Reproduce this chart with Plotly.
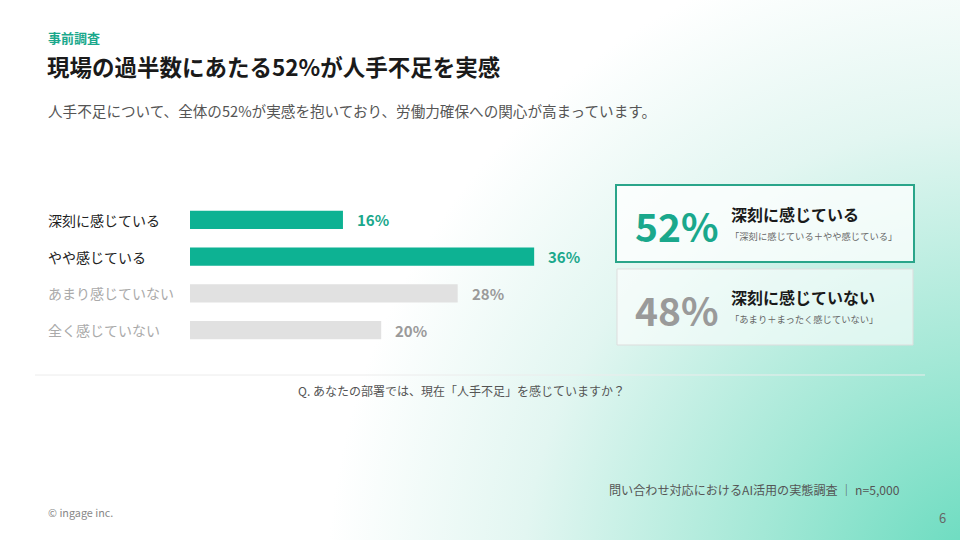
import base64
import plotly.graph_objects as go

categories = ["深刻に感じている", "やや感じている", "あまり感じていない", "全く感じていない"]
values = [16, 36, 28, 20]
bar_colors = ["#0db293", "#0db293", "#e1e1e1", "#e1e1e1"]
label_colors = ["#222222", "#222222", "#aaaaaa", "#aaaaaa"]
value_colors = ["#1aa88c", "#1aa88c", "#9a9a9a", "#9a9a9a"]
summary_values = ["52%", "48%"]
summary_titles = ["深刻に感じている", "深刻に感じていない"]
summary_notes = ["「深刻に感じている＋やや感じている」", "「あまり＋まったく感じていない」"]

FONT = "Noto Sans CJK JP"
W, H = 960, 540

def px(x):
    return x / W

def py(y):
    return 1 - y / H

svg = f'''<svg xmlns="http://www.w3.org/2000/svg" width="{W}" height="{H}" viewBox="0 0 {W} {H}">
<defs><radialGradient id="g" gradientUnits="userSpaceOnUse" cx="990" cy="590" r="780">
<stop offset="0" stop-color="#5fd9bb"/>
<stop offset="0.3" stop-color="#a3e8d6"/>
<stop offset="0.6" stop-color="#e2f6f1"/>
<stop offset="0.85" stop-color="#ffffff"/>
<stop offset="1" stop-color="#ffffff"/>
</radialGradient></defs>
<rect width="{W}" height="{H}" fill="#ffffff"/>
<rect width="{W}" height="{H}" fill="url(#g)"/>
</svg>'''
src = "data:image/svg+xml;base64," + base64.b64encode(svg.encode()).decode()

fig = go.Figure()
fig.add_trace(go.Bar(
    x=values, y=categories, orientation="h",
    marker=dict(color=bar_colors, line=dict(width=0)),
    width=0.5, hoverinfo="skip",
))

px_per_pct = 9.56
x0_px = 190
fig.update_xaxes(domain=[px(x0_px), 1], range=[0, (W - x0_px) / px_per_pct],
                 visible=False, fixedrange=True)
fig.update_yaxes(domain=[py(348.5), py(201.5)], range=[3.5, -0.5],
                 visible=False, fixedrange=True, type="category",
                 categoryorder="array", categoryarray=categories)

ann = []
for c, v, lc, vc in zip(categories, values, label_colors, value_colors):
    ann.append(dict(x=px(46), xref="paper", y=c, yref="y", text=c, showarrow=False,
                    xanchor="left", yanchor="middle",
                    font=dict(family=FONT, size=14, color=lc)))
    ann.append(dict(x=v, xref="x", y=c, yref="y", text=f"<b>{v}%</b>", showarrow=False,
                    xanchor="left", yanchor="middle", xshift=12,
                    font=dict(family=FONT, size=15, color=vc)))

# header texts
hdr = [
    dict(x=px(46), y=py(37), text="<b>事前調査</b>", font=dict(family=FONT, size=13, color="#1aa88c")),
    dict(x=px(45), y=py(66), text="<b>現場の過半数にあたる52%が人手不足を実感</b>",
         font=dict(family=FONT, size=22.5, color="#1a1a1a")),
    dict(x=px(46), y=py(110), text="人手不足について、全体の52%が実感を抱いており、労働力確保への関心が高まっています。",
         font=dict(family=FONT, size=14.6, color="#555555")),
    dict(x=px(46), y=py(512), text="© ingage inc.", font=dict(family=FONT, size=10.8, color="#888888")),
]
for a in hdr:
    a.update(xref="paper", yref="paper", xanchor="left", yanchor="middle", showarrow=False)
ann += hdr

ftr = [
    dict(x=px(461), y=py(390), text="Q. あなたの部署では、現在「人手不足」を感じていますか？",
         xanchor="center", font=dict(family=FONT, size=12, color="#555555")),
    dict(x=px(902), y=py(489), text="問い合わせ対応におけるAI活用の実態調査 ｜ n=5,000",
         xanchor="right", font=dict(family=FONT, size=12.1, color="#555555")),
    dict(x=px(948), y=py(517), text="6", xanchor="right", font=dict(family=FONT, size=13, color="#666666")),
]
for a in ftr:
    a.update(xref="paper", yref="paper", yanchor="middle", showarrow=False)
ann += ftr

# summary boxes
box_y = [(185, 262), (269, 345)]
big_colors = ["#1aa88c", "#9a9a9a"]
for (t, b), sv, st, sn, bc in zip(box_y, summary_values, summary_titles, summary_notes, big_colors):
    mid = (t + b) / 2
    ann.append(dict(x=px(633), y=py(mid + 2), text=f"<b>{sv}</b>", xref="paper", yref="paper",
                    xanchor="left", yanchor="middle", showarrow=False,
                    font=dict(family=FONT, size=39, color=bc)))
    ann.append(dict(x=px(729), y=py(mid - 10), text=f"<b>{st}</b>", xref="paper", yref="paper",
                    xanchor="left", yanchor="middle", showarrow=False,
                    font=dict(family=FONT, size=16, color="#1a1a1a")))
    ann.append(dict(x=px(728), y=py(mid + 12), text=sn, xref="paper", yref="paper",
                    xanchor="left", yanchor="middle", showarrow=False,
                    font=dict(family=FONT, size=9.3, color="#666666")))

shapes = [
    dict(type="rect", xref="paper", yref="paper", x0=px(616), x1=px(914), y0=py(262), y1=py(185),
         line=dict(color="#2aa58a", width=2), fillcolor="rgba(255,255,255,0.75)", layer="below"),
    dict(type="rect", xref="paper", yref="paper", x0=px(617), x1=px(913), y0=py(345), y1=py(269),
         line=dict(color="#dddddd", width=1), fillcolor="rgba(255,255,255,0.6)", layer="below"),
    dict(type="line", xref="paper", yref="paper", x0=px(35), x1=px(925), y0=py(375), y1=py(375),
         line=dict(color="#ececec", width=1)),
]

fig.update_layout(
    width=W, height=H, margin=dict(l=0, r=0, t=0, b=0),
    paper_bgcolor="#ffffff", plot_bgcolor="rgba(0,0,0,0)",
    showlegend=False, annotations=ann, shapes=shapes,
    images=[dict(source=src, xref="paper", yref="paper", x=0, y=1, sizex=1, sizey=1,
                 sizing="stretch", xanchor="left", yanchor="top", layer="below")],
    font=dict(family=FONT),
    bargap=0.5,
)

fig.write_html("out.html", config={"displayModeBar": False})
